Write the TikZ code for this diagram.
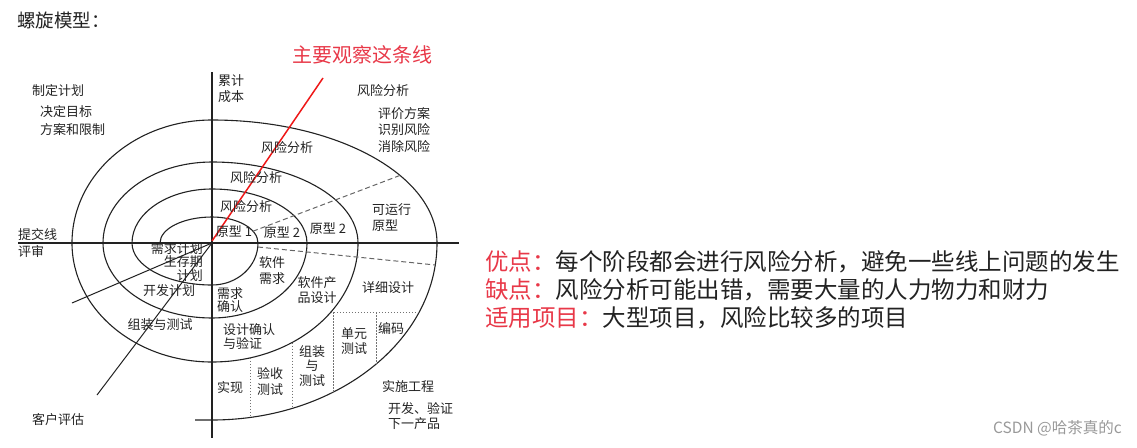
\documentclass[tikz,border=0pt]{standalone}
\usepackage{fontspec}
\setmainfont{Noto Sans CJK SC}
\usepackage{tikz}
\usetikzlibrary{positioning}
\usetikzlibrary{calc}
\definecolor{accentred}{RGB}{232,56,72}
\definecolor{linered}{RGB}{238,24,24}
\definecolor{inkgray}{RGB}{34,34,34}

\begin{document}
\begin{tikzpicture}[x=1pt, y=-1pt,
    spiral/.style={line width=1.1pt, inkgray},
    axisline/.style={line width=1.1pt, inkgray},
    dashline/.style={line width=1pt, black!60, dash pattern=on 5pt off 3pt},
    dotline/.style={line width=0.9pt, black!55, dash pattern=on 1.5pt off 1.5pt},
    lbl/.style={font=\fontsize{13}{16}\selectfont, inner sep=0pt, align=center, text=inkgray},
    note/.style={font=\fontsize{23.5}{27}\selectfont, inner sep=0pt, anchor=west, text=inkgray}]

    \useasboundingbox (0,0) rectangle (1137,447);

    \coordinate (o) at (212,243);

    \node[anchor=west, inner sep=0pt, font=\fontsize{18.5}{20}\selectfont, text=inkgray] (title) at (17,20) {螺旋模型：};
    \node[inner sep=0pt, font=\fontsize{20}{22}\selectfont, text=accentred] (watchlbl) at (362,55) {主要观察这条线};

    \draw[axisline] (18,243) -- (459,243);
    \draw[axisline] (212,72) -- (212,438);

    \draw[spiral] (160,243)
        arc[start angle=180, end angle=270, x radius=52, y radius=26]
        arc[start angle=270, end angle=360, x radius=46, y radius=26]
        arc[start angle=0, end angle=90, x radius=46, y radius=42]
        arc[start angle=90, end angle=180, x radius=80, y radius=42]
        arc[start angle=180, end angle=270, x radius=80, y radius=54]
        arc[start angle=270, end angle=360, x radius=95, y radius=54]
        arc[start angle=0, end angle=90, x radius=95, y radius=75]
        arc[start angle=90, end angle=180, x radius=109, y radius=75]
        arc[start angle=180, end angle=270, x radius=109, y radius=81]
        arc[start angle=270, end angle=360, x radius=146, y radius=81]
        arc[start angle=0, end angle=90, x radius=146, y radius=119]
        arc[start angle=90, end angle=180, x radius=140, y radius=119]
        arc[start angle=180, end angle=270, x radius=140, y radius=123]
        arc[start angle=270, end angle=360, x radius=225, y radius=123]
        arc[start angle=0, end angle=90, x radius=225, y radius=177]
        -- ++(-17,0);

    \draw[line width=1pt, inkgray] (o) -- (72,303);
    \draw[line width=1pt, inkgray] (o) -- (97,395);

    \draw[dashline] ({253},{243-26*sin(acos(41/46))}) -- ({400},{243-123*sin(acos(188/225))});
    \draw[dashline] (258,247) -- ({212+225*cos(asin(22/177))},265);

    \draw[dotline] ({212+146*cos(asin(69/119))},312) -- ({212+225*cos(asin(69/177))},312);
    \foreach \xv/\ytop in {333/312, 376/312} {
        \draw[dotline] (\xv,\ytop) -- ({\xv},{243+177*sin(acos((\xv-212)/225))});
    }
    \foreach \xv in {250, 292} {
        \draw[dotline] ({\xv},{243+119*sin(acos((\xv-212)/146))}) -- ({\xv},{243+177*sin(acos((\xv-212)/225))});
    }

    \draw[line width=1.5pt, linered] (212,241) -- (323,78);

    \node[lbl] (zhiding) at (58,91) {制定计划};
    \node[lbl, align=left, anchor=west, font=\fontsize{13}{18}\selectfont] (mubiao) at (40,121) {决定目标\\方案和限制};
    \node[lbl, align=left, anchor=west] (leiji) at (218,89) {累计\\成本};
    \node[lbl] (fxtop) at (383,91) {风险分析};
    \node[lbl, align=left, anchor=west, font=\fontsize{13}{16.5}\selectfont] (pingjia) at (378,130) {评价方案\\识别风险\\消除风险};
    \node[lbl] (fxfour) at (287,148) {风险分析};
    \node[lbl] (fxthree) at (256,178) {风险分析};
    \node[lbl] (fxtwo) at (246,207) {风险分析};
    \node[lbl] (yxone) at (234,232) {原型 1};
    \node[lbl] (yxtwo) at (282,233) {原型 2};
    \node[lbl] (yxtwob) at (328,229) {原型 2};
    \node[lbl, align=left, anchor=west] (keyunxing) at (372,218) {可运行\\原型};
    \node[lbl, align=left, anchor=west, font=\fontsize{13}{16.5}\selectfont] (tijiao) at (18,243) {提交线\\评审};
    \node[lbl, align=right, anchor=east, font=\fontsize{13}{13.5}\selectfont] (xqjh) at (203,262) {需求计划\\生存期\\计划};
    \node[lbl] (kfjh) at (169,291) {开发计划};
    \node[lbl, font=\fontsize{13}{13.5}\selectfont] (xqqr) at (230,300) {需求\\确认};
    \node[lbl] (rjxq) at (272,271) {软件\\需求};
    \node[lbl, font=\fontsize{13}{15}\selectfont] (rjcp) at (317,290) {软件产\\品设计};
    \node[lbl] (xxsj) at (388,288) {详细设计};
    \node[lbl, align=left, anchor=west, font=\fontsize{13}{14}\selectfont] (sjqr) at (223,336) {设计确认\\与验证};
    \node[lbl, font=\fontsize{13}{15}\selectfont] (dyce) at (354,341) {单元\\测试};
    \node[lbl] (bianma) at (391,328) {编码};
    \node[lbl, font=\fontsize{13}{14.5}\selectfont] (zzyc) at (312,366) {组装\\与\\测试};
    \node[lbl] (ysce) at (270,381) {验收\\测试};
    \node[lbl] (shixian) at (230,388) {实现};
    \node[lbl] (ssgc) at (408,387) {实施工程};
    \node[lbl, align=left, anchor=west, font=\fontsize{13}{15.5}\selectfont] (kfyz) at (388,416) {开发、验证\\下一产品};
    \node[lbl] (zzcs) at (160,325) {组装与测试};
    \node[lbl] (khpg) at (58,420) {客户评估};

    \node[note] (youdian) at (485,262) {{\color{accentred}优点：}每个阶段都会进行风险分析，避免一些线上问题的发生};
    \node[note, below=5pt of youdian.south west, anchor=north west] (quedian) {{\color{accentred}缺点：}风险分析可能出错，需要大量的人力物力和财力};
    \node[note, below=5pt of quedian.south west, anchor=north west] (shiyong) {{\color{accentred}适用项目：}大型项目，风险比较多的项目};

    \node[anchor=east, inner sep=0pt, font=\fontsize{15.5}{17}\selectfont, text=black!40] (csdn) at (1122,428) {CSDN @哈茶真的c};
\end{tikzpicture}
\end{document}
